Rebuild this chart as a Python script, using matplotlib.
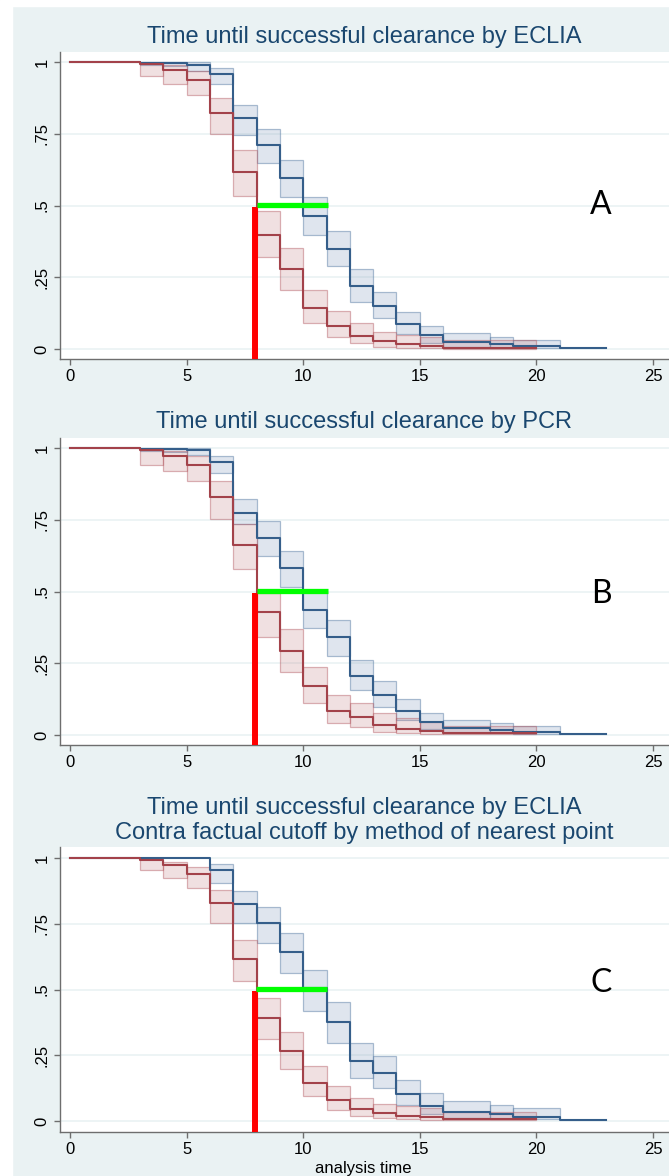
"""
Kaplan-Meier style clearance curves, three stacked panels (ECLIA, PCR, ECLIA nearest point).
"""

import numpy as np
import matplotlib.pyplot as plt
from matplotlib.patches import Rectangle

plt.rcParams['font.family'] = ['Liberation Sans', 'DejaVu Sans']

# ---- data ----
t_blue = [0, 3, 4, 5, 6, 7, 8, 9, 10, 11, 12, 13, 14, 15, 16, 18, 19, 21, 23]
t_red = [0, 3, 4, 5, 6, 7, 8, 9, 10, 11, 12, 13, 14, 15, 16, 20]

# panel A: ECLIA
blue_A = [1, .998, .995, .99, .959, .806, .710, .596, .462, .348, .220, .150, .087, .049, .026, .018, .010, .003]
blue_A_hi = [np.nan, 1, 1, 1, .980, .851, .767, .658, .528, .412, .278, .200, .130, .081, .055, .041, .031, np.nan]
blue_A_lo = [np.nan, .990, .985, .970, .922, .745, .648, .528, .397, .288, .165, .107, .051, .020, .008, .005, .002, np.nan]
red_A = [1, .994, .972, .937, .821, .617, .398, .278, .142, .080, .045, .027, .017, .012, .005]
red_A_hi = [np.nan, .998, .990, .969, .875, .692, .480, .352, .204, .133, .090, .060, .050, .043, .031]
red_A_lo = [np.nan, .950, .925, .884, .750, .532, .322, .206, .090, .043, .020, .008, .005, .003, .001]

# panel B: PCR
blue_B = [1, .998, .996, .992, .951, .773, .688, .581, .436, .340, .206, .140, .084, .044, .023, .016, .009, .002]
blue_B_hi = [np.nan, 1, 1, 1, .973, .822, .744, .642, .500, .400, .262, .188, .124, .078, .052, .041, .033, np.nan]
blue_B_lo = [np.nan, .990, .985, .975, .913, .735, .622, .517, .372, .277, .157, .099, .052, .021, .008, .006, .003, np.nan]
red_B = [1, .992, .971, .942, .828, .663, .427, .291, .169, .084, .062, .035, .021, .014, .006]
red_B_hi = [np.nan, .998, .988, .971, .884, .735, .494, .369, .236, .140, .113, .076, .058, .047, .033]
red_B_lo = [np.nan, .942, .921, .886, .752, .579, .343, .219, .110, .043, .029, .012, .006, .003, .002]

# panel C: ECLIA, nearest point cutoff
blue_C = [1, 1, 1, 1, .956, .824, .753, .643, .504, .375, .228, .181, .103, .058, .035, .025, .016, .004]
blue_C_hi = [np.nan, np.nan, np.nan, np.nan, .978, .875, .814, .713, .576, .452, .295, .247, .156, .105, .076, .061, .051, np.nan]
blue_C_lo = [np.nan, np.nan, np.nan, np.nan, .905, .754, .677, .561, .419, .297, .162, .124, .061, .027, .013, .009, .006, np.nan]
red_C = [1, .994, .972, .941, .827, .615, .390, .267, .146, .080, .046, .029, .020, .015, .008]
red_C_hi = [np.nan, .998, .985, .966, .880, .690, .466, .339, .209, .133, .086, .063, .057, .048, .035]
red_C_lo = [np.nan, .953, .925, .887, .751, .533, .310, .196, .095, .042, .019, .010, .008, .005, .004]

# cutoff markers: red vertical at x, green horizontal from x to x2 at y
cut_x = [7.93, 7.93, 7.92]
cut_green = [(8.03, 11.05), (8.03, 11.05), (7.98, 11.0)]

titles = ['Time until successful clearance by ECLIA',
          'Time until successful clearance by PCR',
          'Time until successful clearance by ECLIA\nContra factual cutoff by method of nearest point']
letters = ['A', 'B', 'C']
letter_y = [0.50, 0.49, 0.525]

panels = [
    (blue_A, blue_A_hi, blue_A_lo, red_A, red_A_hi, red_A_lo),
    (blue_B, blue_B_hi, blue_B_lo, red_B, red_B_hi, red_B_lo),
    (blue_C, blue_C_hi, blue_C_lo, red_C, red_C_hi, red_C_lo),
]

# colours
bg = '#EAF2F3'
navy = '#1A476F'
blue_line = '#355E8A'
red_line = '#A3424A'

W, H = 669, 1176
fig = plt.figure(figsize=(W / 100, H / 100), dpi=100, facecolor=bg)
fig.patches.append(Rectangle((0, 0), 12 / W, 1, transform=fig.transFigure, color='white', zorder=0))
fig.patches.append(Rectangle((0, 1 - 6 / H), 1, 6 / H, transform=fig.transFigure, color='white', zorder=0))

# pixel layout of each panel: (plot top, plot bottom, y of value 1, y of value 0, title lines)
layout = [
    (52, 359, 62, 349, [37]),
    (438, 745, 448, 735, [422]),
    (847, 1132, 858, 1121, [808, 833]),
]


def band(ax, t, hi, lo, color, edge):
    t = np.asarray(t, float)
    hi = np.asarray(hi, float)
    lo = np.asarray(lo, float)
    ok = ~np.isnan(hi)
    left = t[:-1][ok]
    width = np.diff(t)[ok]
    ax.bar(left, hi[ok] - lo[ok], width=width, bottom=lo[ok], align='edge',
           facecolor=color, edgecolor=edge, linewidth=0.9, zorder=2)


def curve(ax, t, v, color):
    ax.plot(t, list(v) + [v[-1]], drawstyle='steps-post', color=color, lw=1.5, zorder=4)


x0_px, px_per_unit = 70, (653 - 70) / 25
for i, (top, bot, y1, y0, tlines) in enumerate(layout):
    ax = fig.add_axes([60 / W, 1 - bot / H, (W - 60) / W, (bot - top) / H])
    ax.set_facecolor('white')
    unit = y0 - y1
    ax.set_ylim(-(bot - y0) / unit, 1 + (y1 - top) / unit)
    ax.set_xlim((60 - x0_px) / px_per_unit, (W - x0_px) / px_per_unit)

    b, bhi, blo, r, rhi, rlo = panels[i]
    band(ax, t_blue, bhi, blo, (0.55, 0.64, 0.76, 0.28), (0.30, 0.45, 0.62, 0.45))
    band(ax, t_red, rhi, rlo, (0.75, 0.45, 0.47, 0.22), (0.70, 0.35, 0.38, 0.45))
    curve(ax, t_blue, b, blue_line)
    curve(ax, t_red, r, red_line)

    lo_lim = ax.get_ylim()[0]
    ax.plot([cut_x[i], cut_x[i]], [0.495, lo_lim], color='#FF0000', lw=4.3,
            solid_capstyle='butt', zorder=6, clip_on=False)
    ax.plot(cut_green[i], [0.503, 0.503], color='#00FF00', lw=3.8,
            solid_capstyle='butt', zorder=6)

    ax.text(22.77, letter_y[i], letters[i], fontsize=23, ha='center', va='center',
            family=['Lato', 'DejaVu Sans'], color='black')

    ax.set_xticks([0, 5, 10, 15, 20, 25])
    ax.set_yticks([0, .25, .5, .75, 1])
    ax.set_yticklabels(['0', '.25', '.5', '.75', '1'])
    ax.grid(axis='y', color=bg, lw=1.2, zorder=0)
    ax.set_axisbelow(True)
    for s in ['top', 'right']:
        ax.spines[s].set_visible(False)
    for s in ['left', 'bottom']:
        ax.spines[s].set_color('#6E6E6E')
        ax.spines[s].set_linewidth(1.0)
    ax.tick_params(axis='both', labelsize=12, color='#6E6E6E', length=4.5, width=1.0)
    ax.tick_params(axis='x', pad=3)
    ax.tick_params(axis='y', labelrotation=90, pad=3)
    for lab in ax.get_yticklabels():
        lab.set_va('center')

    if len(tlines) == 1:
        fig.text(364 / W, 1 - tlines[0] / H, titles[i], ha='center', va='center',
                 fontsize=17, color=navy)
    else:
        for line, yp in zip(titles[i].split('\n'), tlines):
            fig.text(364 / W, 1 - yp / H, line, ha='center', va='center',
                     fontsize=17, color=navy)

fig.text(363 / W, 1 - 1169 / H, 'analysis time', ha='center', va='center', fontsize=12)

fig.savefig('out.png', dpi=100, facecolor=bg)
